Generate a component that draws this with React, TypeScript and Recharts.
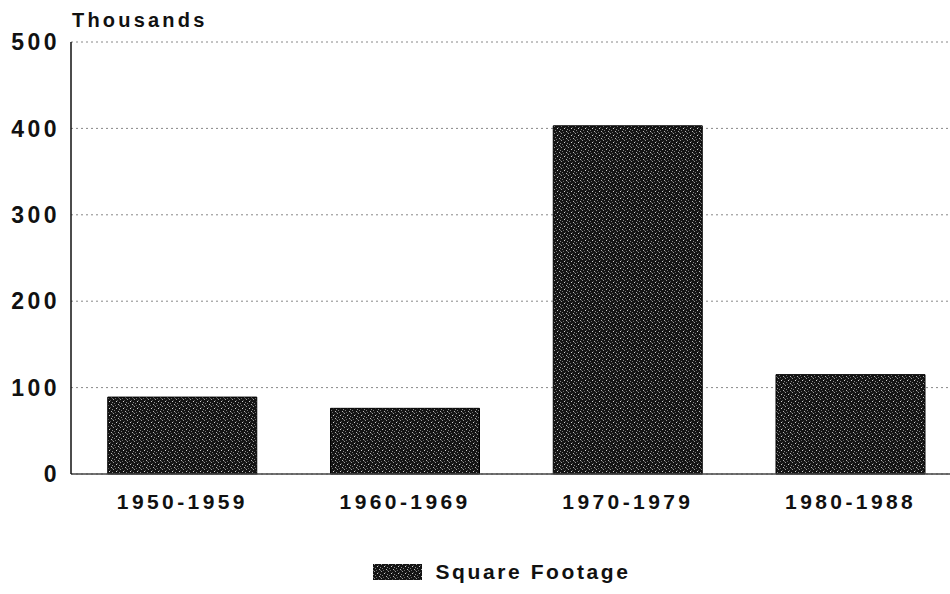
import { Bar, BarChart, CartesianGrid, Legend, XAxis, YAxis } from "recharts";

const decades = ["1950-1959", "1960-1969", "1970-1979", "1980-1988"];
const squareFootage = [89, 76, 403, 115];
const yTicks = [0, 100, 200, 300, 400, 500];

const data = decades.map((decade, i) => ({ decade, value: squareFootage[i] }));

const font = "'Liberation Sans', Arial, sans-serif";

function Speckle() {
  return (
    <pattern id="speckle" width="7" height="7" patternUnits="userSpaceOnUse">
      <rect width="7" height="7" fill="#141414" />
      <rect x="1" y="0" width="1" height="1" fill="#9a9a9a" />
      <rect x="4" y="2" width="1" height="1" fill="#d5d5d5" />
      <rect x="2" y="4" width="1" height="1" fill="#7a7a7a" />
      <rect x="6" y="5" width="1" height="1" fill="#b8b8b8" />
      <rect x="0" y="6" width="1" height="1" fill="#5e5e5e" />
      <rect x="5" y="1" width="1" height="1" fill="#555" />
      <rect x="3" y="6" width="1" height="1" fill="#666" />
      <rect x="0" y="3" width="1" height="1" fill="#8a8a8a" />
    </pattern>
  );
}

function LegendBox() {
  return (
    <div style={{ display: "flex", justifyContent: "center", alignItems: "center", fontFamily: font }}>
      <svg width="49" height="16" style={{ marginRight: 13 }}>
        <rect width="49" height="16" fill="url(#speckle)" />
      </svg>
      <span style={{ fontSize: 21, fontWeight: 700, letterSpacing: 2.6, color: "#111" }}>Square Footage</span>
    </div>
  );
}

export default function App() {
  return (
    <div style={{ position: "absolute", left: 0, top: 0, width: 970, height: 594, background: "#fff" }}>
      <BarChart
        width={970}
        height={594}
        data={data}
        margin={{ top: 42, right: 8, bottom: 0, left: 0 }}
        barCategoryGap="16.5%"
      >
        <defs>
          <Speckle />
        </defs>
        <CartesianGrid vertical={false} stroke="#888" strokeDasharray="2 3" />
        <XAxis
          dataKey="decade"
          height={120}
          axisLine={{ stroke: "#444", strokeWidth: 1.5 }}
          tickLine={false}
          tickMargin={14}
          tick={{ fill: "#111", fontSize: 21, fontWeight: 700, fontFamily: font, letterSpacing: 3.4 }}
        />
        <YAxis
          width={71}
          domain={[0, 500]}
          ticks={yTicks}
          interval={0}
          axisLine={{ stroke: "#111", strokeWidth: 1.5 }}
          tickLine={false}
          tickMargin={5}
          tick={{ fill: "#111", fontSize: 23, fontWeight: 700, fontFamily: font, letterSpacing: 3.5 }}
          label={() => (
            <text x={72} y={27} fill="#111" fontSize={20} fontWeight={700} fontFamily={font} letterSpacing={3.2}>
              Thousands
            </text>
          )}
        />
        <Bar dataKey="value" fill="url(#speckle)" stroke="#000" strokeWidth={1} isAnimationActive={false} />
        <Legend
          layout="horizontal"
          verticalAlign="middle"
          align="center"
          wrapperStyle={{ top: 560, left: 0, width: 1004 }}
          content={() => <LegendBox />}
        />
      </BarChart>
    </div>
  );
}
